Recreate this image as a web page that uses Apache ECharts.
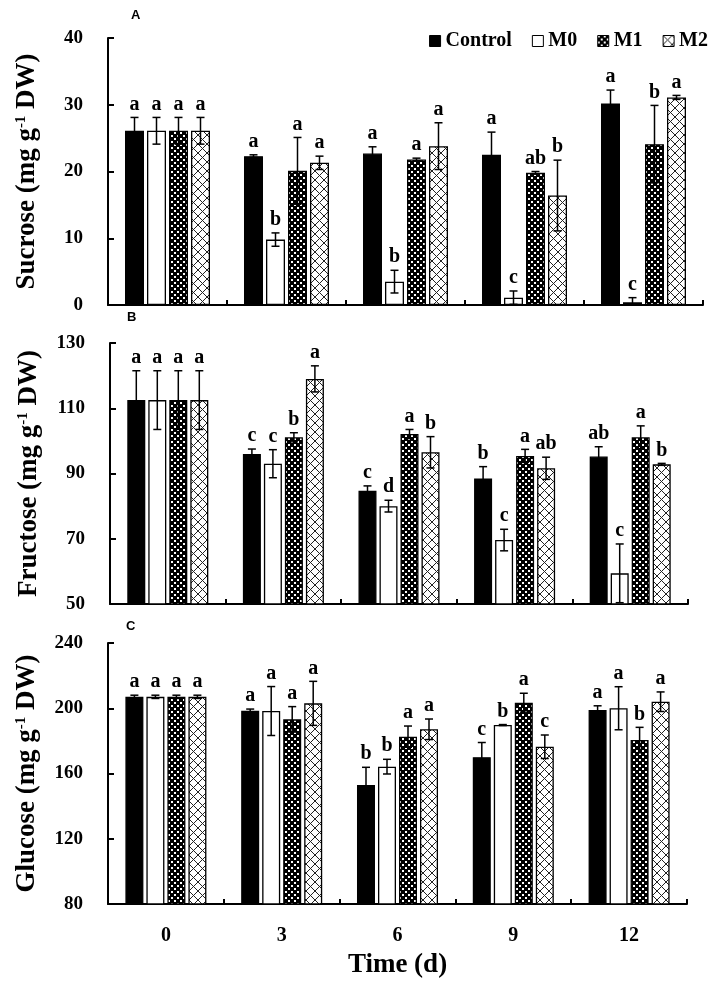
<!DOCTYPE html>
<html><head><meta charset="utf-8">
<script src="https://cdn.jsdelivr.net/npm/echarts@6/dist/echarts.min.js"></script>
<style>html,body{margin:0;padding:0;background:#fff}#c{width:727px;height:992px}</style>
</head><body><div id="c"></div>
<script>
// ---------- data ----------
const days = ['0', '3', '6', '9', '12'];
const groups = ['Control', 'M0', 'M1', 'M2'];

const sucroseTicks = [0, 10, 20, 30, 40];
const sucroseControl = [26.1, 22.3, 22.7, 22.5, 30.2];
const sucroseM0      = [26.1, 9.8, 3.5, 1.1, 0.4];
const sucroseM1      = [26.1, 20.1, 21.8, 19.8, 24.1];
const sucroseM2      = [26.1, 21.3, 23.8, 16.4, 31.1];
const sucroseControlErr = [2.0, 0.2, 1.0, 3.4, 2.0];
const sucroseM0Err      = [2.0, 1.0, 1.7, 1.0, 0.7];
const sucroseM1Err      = [2.0, 5.0, 0.2, 0.2, 5.8];
const sucroseM2Err      = [2.0, 1.0, 3.5, 5.3, 0.3];
const sucroseControlSig = ['a', 'a', 'a', 'a', 'a'];
const sucroseM0Sig      = ['a', 'b', 'b', 'c', 'c'];
const sucroseM1Sig      = ['a', 'a', 'a', 'ab', 'b'];
const sucroseM2Sig      = ['a', 'a', 'a', 'b', 'a'];

const fructoseTicks = [50, 70, 90, 110, 130];
const fructoseControl = [112.5, 96.0, 84.7, 88.5, 95.2];
const fructoseM0      = [112.5, 93.0, 80.0, 69.6, 59.4];
const fructoseM1      = [112.5, 101.1, 102.1, 95.4, 101.1];
const fructoseM2      = [112.5, 119.0, 96.5, 91.6, 92.8];
const fructoseControlErr = [9.0, 1.5, 1.5, 3.6, 3.0];
const fructoseM0Err      = [9.0, 4.3, 1.8, 3.3, 9.0];
const fructoseM1Err      = [9.0, 1.4, 1.4, 2.0, 3.5];
const fructoseM2Err      = [9.0, 4.0, 4.8, 3.4, 0.3];
const fructoseControlSig = ['a', 'c', 'c', 'b', 'ab'];
const fructoseM0Sig      = ['a', 'c', 'd', 'c', 'c'];
const fructoseM1Sig      = ['a', 'b', 'a', 'a', 'a'];
const fructoseM2Sig      = ['a', 'a', 'b', 'ab', 'b'];

const glucoseTicks = [80, 120, 160, 200, 240];
const glucoseControl = [207.0, 198.5, 153.0, 170.0, 199.0];
const glucoseM0      = [207.0, 198.3, 164.2, 189.7, 200.0];
const glucoseM1      = [207.0, 193.2, 182.6, 203.4, 180.5];
const glucoseM2      = [207.0, 203.0, 187.1, 176.4, 204.0];
const glucoseControlErr = [1.0, 1.0, 10.8, 9.0, 2.5];
const glucoseM0Err      = [1.0, 15.0, 4.5, 0.3, 13.2];
const glucoseM1Err      = [1.0, 7.8, 6.5, 5.8, 7.8];
const glucoseM2Err      = [1.0, 13.5, 6.3, 7.2, 6.0];
const glucoseControlSig = ['a', 'a', 'b', 'c', 'a'];
const glucoseM0Sig      = ['a', 'a', 'b', 'b', 'a'];
const glucoseM1Sig      = ['a', 'a', 'a', 'a', 'b'];
const glucoseM2Sig      = ['a', 'a', 'a', 'c', 'a'];

// ---------- styling ----------
const SERIF = '"Liberation Serif", "Times New Roman", serif';

function patternM1() {
  const c = document.createElement('canvas'); c.width = 6; c.height = 6;
  const x = c.getContext('2d');
  x.fillStyle = '#000'; x.fillRect(0, 0, 6, 6);
  x.fillStyle = '#fff'; x.fillRect(0, 0, 2, 2); x.fillRect(3, 3, 2, 2);
  return c;
}
function patternM2() {
  const c = document.createElement('canvas'); c.width = 9; c.height = 9;
  const x = c.getContext('2d');
  x.fillStyle = '#fff'; x.fillRect(0, 0, 9, 9);
  x.strokeStyle = '#222'; x.lineWidth = 1;
  x.beginPath(); x.moveTo(0, 0); x.lineTo(9, 9); x.moveTo(9, 0); x.lineTo(0, 9); x.stroke();
  return c;
}
const fills = ['#000', '#fff', { image: patternM1(), repeat: 'repeat' }, { image: patternM2(), repeat: 'repeat' }];

const panels = [
  { label: 'A', title: 'Sucrose (mg g{sup|-1} DW)', min: 0, max: 40, ticks: sucroseTicks,
    means: [sucroseControl, sucroseM0, sucroseM1, sucroseM2],
    errs: [sucroseControlErr, sucroseM0Err, sucroseM1Err, sucroseM2Err],
    sigs: [sucroseControlSig, sucroseM0Sig, sucroseM1Sig, sucroseM2Sig],
    grid: { left: 108, right: 24, top: 38, height: 267 }, barW: 19, gap: 3, lab: [137, 17] },
  { label: 'B', title: 'Fructose (mg g{sup|-1} DW)', min: 50, max: 130, ticks: fructoseTicks,
    means: [fructoseControl, fructoseM0, fructoseM1, fructoseM2],
    errs: [fructoseControlErr, fructoseM0Err, fructoseM1Err, fructoseM2Err],
    sigs: [fructoseControlSig, fructoseM0Sig, fructoseM1Sig, fructoseM2Sig],
    grid: { left: 110, right: 39, top: 343, height: 261 }, barW: 18, gap: 3, lab: [133, 319] },
  { label: 'C', title: 'Glucose (mg g{sup|-1} DW)', min: 80, max: 240, ticks: glucoseTicks,
    means: [glucoseControl, glucoseM0, glucoseM1, glucoseM2],
    errs: [glucoseControlErr, glucoseM0Err, glucoseM1Err, glucoseM2Err],
    sigs: [glucoseControlSig, glucoseM0Sig, glucoseM1Sig, glucoseM2Sig],
    grid: { left: 108, right: 40, top: 643, height: 261 }, barW: 18, gap: 3, lab: [132, 628] }
];

const grids = [], xAxes = [], yAxes = [], series = [], graphics = [];
panels.forEach((p, pi) => {
  grids.push(p.grid);
  const last = pi === panels.length - 1;
  xAxes.push({
    type: 'category', gridIndex: pi, data: days, boundaryGap: true,
    axisLine: { lineStyle: { color: '#000', width: 2 } },
    axisTick: { show: true, inside: true, length: 5, lineStyle: { color: '#000', width: 2 } },
    axisLabel: { show: last, margin: 22, color: '#000', fontFamily: SERIF, fontWeight: 'bold', fontSize: 20 },
    name: last ? 'Time (d)' : '', nameLocation: 'middle', nameGap: 48,
    nameTextStyle: { color: '#000', fontFamily: SERIF, fontWeight: 'bold', fontSize: 27 },
    splitLine: { show: false }
  });
  yAxes.push({
    type: 'value', gridIndex: pi, min: p.min, max: p.max,
    axisLine: { show: true, lineStyle: { color: '#000', width: 2 } },
    axisTick: { show: true, inside: true, length: 6, customValues: p.ticks, lineStyle: { color: '#000', width: 2 } },
    axisLabel: { customValues: p.ticks, margin: 25, color: '#000', fontFamily: SERIF, fontWeight: 'bold', fontSize: 19 },
    splitLine: { show: false },
    name: p.title, nameLocation: 'middle', nameRotate: 90, nameGap: 67,
    nameTextStyle: { color: '#000', fontFamily: SERIF, fontWeight: 'bold', fontSize: 27,
      rich: { sup: { fontFamily: SERIF, fontWeight: 'bold', fontSize: 15, verticalAlign: 'top', padding: [0, 0, 12, 0] } } }
  });
  groups.forEach((g, gi) => {
    series.push({
      type: 'bar', name: g, xAxisIndex: pi, yAxisIndex: pi, data: p.means[gi],
      barWidth: p.barW, barGap: (p.gap / p.barW * 100).toFixed(1) + '%',
      itemStyle: { color: fills[gi], borderColor: '#000', borderWidth: 1.3 },
      emphasis: { disabled: true }, z: 2, animation: false
    });
  });
  const items = [];
  groups.forEach((g, gi) => {
    days.forEach((d, ci) => items.push([ci, gi, p.means[gi][ci], p.errs[gi][ci]]));
  });
  series.push({
    type: 'custom', name: 'err' + p.label, xAxisIndex: pi, yAxisIndex: pi, data: items,
    encode: { x: 0, y: 2 }, z: 5, animation: false, silent: true,
    renderItem: (params, api) => {
      const ci = api.value(0), gi = api.value(1), v = api.value(2), e = api.value(3);
      const off = (gi - 1.5) * (p.barW + p.gap);
      const cx = api.coord([ci, v])[0] + off;
      const yT = api.coord([ci, v + e])[1];
      const lowV = v - e;
      const yB = api.coord([ci, Math.max(p.min, lowV)])[1];
      const hw = 4;
      const st = { stroke: '#000', lineWidth: 1.5 };
      const ch = [
        { type: 'line', shape: { x1: cx, y1: yT, x2: cx, y2: yB }, style: st },
        { type: 'line', shape: { x1: cx - hw, y1: yT, x2: cx + hw, y2: yT }, style: st }
      ];
      if (lowV > p.min) ch.push({ type: 'line', shape: { x1: cx - hw, y1: yB, x2: cx + hw, y2: yB }, style: st });
      ch.push({ type: 'text', style: { text: p.sigs[gi][ci], x: cx, y: yT - 3, align: 'center', verticalAlign: 'bottom',
        font: 'bold 20px ' + SERIF, fill: '#000' } });
      return { type: 'group', children: ch };
    }
  });
  graphics.push({ type: 'text', left: p.lab[0] - 6, top: p.lab[1] - 8,
    style: { text: p.label, font: 'bold 13px "Liberation Sans", Arial, sans-serif', fill: '#000' } });
});

const chart = echarts.init(document.getElementById('c'), null, { renderer: 'canvas' });
chart.setOption({
  backgroundColor: '#fff',
  animation: false,
  legend: {
    data: groups, right: 14, top: 26, itemWidth: 11, itemHeight: 11, itemGap: 20, icon: 'rect',
    textStyle: { color: '#000', fontFamily: SERIF, fontWeight: 'bold', fontSize: 20 },
    itemStyle: { borderColor: '#000', borderWidth: 1 }
  },
  grid: grids, xAxis: xAxes, yAxis: yAxes, series: series, graphic: graphics
});
</script></body></html>
